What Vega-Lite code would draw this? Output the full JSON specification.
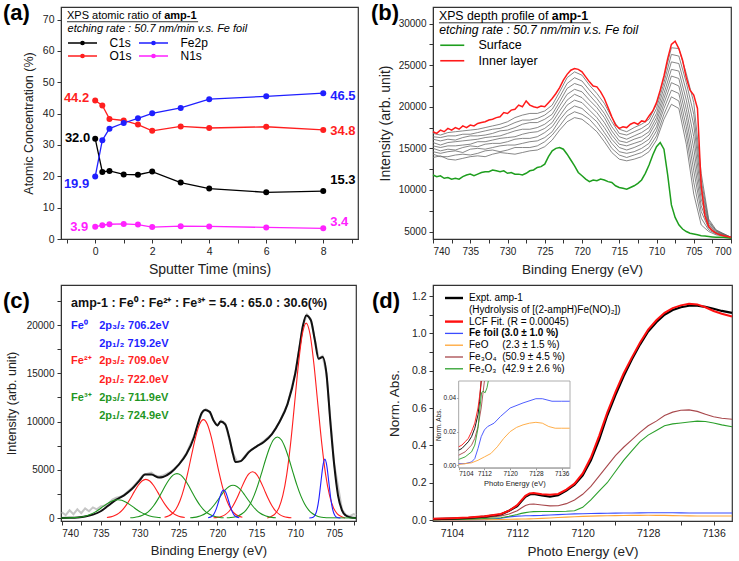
{
  "$schema": "https://vega.github.io/schema/vega-lite/v6.json",
  "background": "white",
  "padding": {"left": 2, "top": 1, "right": 4, "bottom": 4},
  "columns": 2,
  "bounds": "flush",
  "spacing": {"row": 46, "column": 75},
  "resolve": {"scale": {"color": "independent", "fill": "independent"}, "legend": {"color": "independent", "fill": "independent"}},
  "config": {
    "font": "Liberation Sans",
    "view": {"stroke": "#333333", "strokeWidth": 1.2},
    "axis": {"grid": false, "labelOverlap": false, "labelBound": false, "domainColor": "#333333", "tickColor": "#333333", "tickSize": 4, "labelColor": "#222222", "titleColor": "#222222", "titleFontWeight": "normal", "labelFontSize": 10, "titleFontSize": 13, "labelPadding": 3},
    "legend": {"padding": 0, "labelColor": "#000000"}
  },
  "datasets": {
    "a": [
      {"t": 0, "s": "C1s", "v": 32.0}, {"t": 0.25, "s": "C1s", "v": 21.4}, {"t": 0.5, "s": "C1s", "v": 21.7}, {"t": 1, "s": "C1s", "v": 20.6}, {"t": 1.5, "s": "C1s", "v": 20.5}, {"t": 2, "s": "C1s", "v": 21.5}, {"t": 3, "s": "C1s", "v": 18.0}, {"t": 4, "s": "C1s", "v": 16.1}, {"t": 6, "s": "C1s", "v": 14.9}, {"t": 8, "s": "C1s", "v": 15.3},
      {"t": 0, "s": "O1s", "v": 44.2}, {"t": 0.25, "s": "O1s", "v": 42.6}, {"t": 0.5, "s": "O1s", "v": 38.3}, {"t": 1, "s": "O1s", "v": 37.8}, {"t": 1.5, "s": "O1s", "v": 36.5}, {"t": 2, "s": "O1s", "v": 34.5}, {"t": 3, "s": "O1s", "v": 35.9}, {"t": 4, "s": "O1s", "v": 35.4}, {"t": 6, "s": "O1s", "v": 35.8}, {"t": 8, "s": "O1s", "v": 34.8},
      {"t": 0, "s": "Fe2p", "v": 19.9}, {"t": 0.25, "s": "Fe2p", "v": 31.5}, {"t": 0.5, "s": "Fe2p", "v": 35.2}, {"t": 1, "s": "Fe2p", "v": 37.0}, {"t": 1.5, "s": "Fe2p", "v": 38.5}, {"t": 2, "s": "Fe2p", "v": 40.1}, {"t": 3, "s": "Fe2p", "v": 41.8}, {"t": 4, "s": "Fe2p", "v": 44.6}, {"t": 6, "s": "Fe2p", "v": 45.5}, {"t": 8, "s": "Fe2p", "v": 46.5},
      {"t": 0, "s": "N1s", "v": 3.9}, {"t": 0.25, "s": "N1s", "v": 4.4}, {"t": 0.5, "s": "N1s", "v": 4.7}, {"t": 1, "s": "N1s", "v": 4.8}, {"t": 1.5, "s": "N1s", "v": 4.6}, {"t": 2, "s": "N1s", "v": 3.8}, {"t": 3, "s": "N1s", "v": 4.1}, {"t": 4, "s": "N1s", "v": 4.0}, {"t": 6, "s": "N1s", "v": 3.7}, {"t": 8, "s": "N1s", "v": 3.4}
    ],
    "bgray": [
      {"e": 740, "t1": 13900, "t2": 14300, "t3": 14600, "t4": 15000, "t5": 15300, "t6": 15700, "t7": 16100, "t8": 16400, "t9": 16800},
      {"e": 739, "t1": 14100, "t2": 14000, "t3": 14400, "t4": 14700, "t5": 15100, "t6": 15400, "t7": 15900, "t8": 16300, "t9": 16600},
      {"e": 738, "t1": 13700, "t2": 14000, "t3": 14600, "t4": 14900, "t5": 15300, "t6": 15700, "t7": 16100, "t8": 16500, "t9": 16900},
      {"e": 737, "t1": 13600, "t2": 14200, "t3": 14700, "t4": 14800, "t5": 15300, "t6": 15800, "t7": 16000, "t8": 16500, "t9": 17000},
      {"e": 736, "t1": 13800, "t2": 14300, "t3": 14500, "t4": 15100, "t5": 15400, "t6": 15900, "t7": 16300, "t8": 16700, "t9": 17100},
      {"e": 735, "t1": 14000, "t2": 14200, "t3": 14900, "t4": 15300, "t5": 15500, "t6": 16000, "t7": 16500, "t8": 16700, "t9": 17200},
      {"e": 734, "t1": 14100, "t2": 14400, "t3": 15000, "t4": 15200, "t5": 15800, "t6": 16100, "t7": 16500, "t8": 16900, "t9": 17300},
      {"e": 733, "t1": 14000, "t2": 14700, "t3": 14900, "t4": 15500, "t5": 15800, "t6": 16300, "t7": 16600, "t8": 17100, "t9": 17500},
      {"e": 732, "t1": 14300, "t2": 14800, "t3": 15100, "t4": 15600, "t5": 16000, "t6": 16400, "t7": 16800, "t8": 17300, "t9": 17700},
      {"e": 731, "t1": 14500, "t2": 14600, "t3": 15300, "t4": 15600, "t5": 16200, "t6": 16500, "t7": 17100, "t8": 17400, "t9": 17900},
      {"e": 730, "t1": 14400, "t2": 14800, "t3": 15400, "t4": 15800, "t5": 16300, "t6": 16800, "t7": 17200, "t8": 17700, "t9": 18200},
      {"e": 729, "t1": 14300, "t2": 15100, "t3": 15400, "t4": 16100, "t5": 16400, "t6": 17100, "t7": 17500, "t8": 18100, "t9": 18700},
      {"e": 728, "t1": 14500, "t2": 15100, "t3": 15600, "t4": 16200, "t5": 16700, "t6": 17300, "t7": 17900, "t8": 18400, "t9": 19000},
      {"e": 727, "t1": 14700, "t2": 15100, "t3": 15800, "t4": 16200, "t5": 16900, "t6": 17300, "t7": 18100, "t8": 18400, "t9": 19200},
      {"e": 726, "t1": 14800, "t2": 15300, "t3": 15900, "t4": 16400, "t5": 17000, "t6": 17500, "t7": 18100, "t8": 18600, "t9": 19200},
      {"e": 725, "t1": 15200, "t2": 15800, "t3": 16300, "t4": 16900, "t5": 17400, "t6": 17900, "t7": 18500, "t8": 19000, "t9": 19500},
      {"e": 724, "t1": 16000, "t2": 16600, "t3": 17000, "t4": 17600, "t5": 18100, "t6": 18600, "t7": 19100, "t8": 19700, "t9": 20200},
      {"e": 723, "t1": 17200, "t2": 17700, "t3": 18400, "t4": 18900, "t5": 19500, "t6": 20100, "t7": 20600, "t8": 21200, "t9": 21800},
      {"e": 722, "t1": 18200, "t2": 18900, "t3": 19500, "t4": 20200, "t5": 20800, "t6": 21500, "t7": 22200, "t8": 22800, "t9": 23500},
      {"e": 721, "t1": 18700, "t2": 19400, "t3": 20100, "t4": 20800, "t5": 21500, "t6": 22100, "t7": 22800, "t8": 23500, "t9": 24200},
      {"e": 720, "t1": 18500, "t2": 19100, "t3": 19800, "t4": 20500, "t5": 21100, "t6": 21800, "t7": 22500, "t8": 23100, "t9": 23800},
      {"e": 719, "t1": 17800, "t2": 18500, "t3": 19000, "t4": 19600, "t5": 20200, "t6": 20800, "t7": 21400, "t8": 22000, "t9": 22600},
      {"e": 718, "t1": 17000, "t2": 17500, "t3": 18200, "t4": 18700, "t5": 19300, "t6": 19900, "t7": 20400, "t8": 21000, "t9": 21600},
      {"e": 717, "t1": 15800, "t2": 16400, "t3": 16900, "t4": 17500, "t5": 18100, "t6": 18700, "t7": 19200, "t8": 19800, "t9": 20400},
      {"e": 716, "t1": 14500, "t2": 15000, "t3": 15600, "t4": 16100, "t5": 16600, "t6": 17100, "t7": 17600, "t8": 18200, "t9": 18700},
      {"e": 715, "t1": 13700, "t2": 14200, "t3": 14600, "t4": 15100, "t5": 15500, "t6": 15900, "t7": 16400, "t8": 16800, "t9": 17300},
      {"e": 714, "t1": 13500, "t2": 13900, "t3": 14400, "t4": 14800, "t5": 15300, "t6": 15700, "t7": 16100, "t8": 16600, "t9": 17000},
      {"e": 713, "t1": 13700, "t2": 14200, "t3": 14600, "t4": 15100, "t5": 15600, "t6": 16100, "t7": 16500, "t8": 17000, "t9": 17500},
      {"e": 712, "t1": 14000, "t2": 14500, "t3": 15000, "t4": 15500, "t5": 15900, "t6": 16400, "t7": 16900, "t8": 17400, "t9": 17900},
      {"e": 711, "t1": 14600, "t2": 15100, "t3": 15600, "t4": 16100, "t5": 16600, "t6": 17000, "t7": 17500, "t8": 18000, "t9": 18500},
      {"e": 710, "t1": 16000, "t2": 16500, "t3": 17100, "t4": 17600, "t5": 18200, "t6": 18700, "t7": 19200, "t8": 19800, "t9": 20300},
      {"e": 709, "t1": 18500, "t2": 19100, "t3": 19800, "t4": 20400, "t5": 21000, "t6": 21600, "t7": 22300, "t8": 22900, "t9": 23500},
      {"e": 708, "t1": 20300, "t2": 21200, "t3": 22000, "t4": 22900, "t5": 23700, "t6": 24500, "t7": 25400, "t8": 26300, "t9": 27100},
      {"e": 707, "t1": 19800, "t2": 20700, "t3": 21600, "t4": 22500, "t5": 23400, "t6": 24300, "t7": 25200, "t8": 26100, "t9": 27000},
      {"e": 706, "t1": 15500, "t2": 16600, "t3": 17600, "t4": 18700, "t5": 19700, "t6": 20800, "t7": 21900, "t8": 22900, "t9": 24000},
      {"e": 705, "t1": 9500, "t2": 10900, "t3": 12300, "t4": 13600, "t5": 15000, "t6": 16400, "t7": 17800, "t8": 19100, "t9": 20500},
      {"e": 704, "t1": 5800, "t2": 6600, "t3": 7400, "t4": 8100, "t5": 8900, "t6": 9700, "t7": 10500, "t8": 11200, "t9": 12000},
      {"e": 703, "t1": 5000, "t2": 5200, "t3": 5400, "t4": 5600, "t5": 5800, "t6": 5900, "t7": 6100, "t8": 6300, "t9": 6500},
      {"e": 702, "t1": 4600, "t2": 4700, "t3": 4800, "t4": 4800, "t5": 4900, "t6": 5000, "t7": 5100, "t8": 5100, "t9": 5200},
      {"e": 700, "t1": 4300, "t2": 4300, "t3": 4300, "t4": 4300, "t5": 4300, "t6": 4300, "t7": 4300, "t8": 4300, "t9": 4300}
    ],
    "bline": [
      {"e": 740, "inner": 17000, "surface": 11800}, {"e": 739.5, "inner": 16800, "surface": 11600}, {"e": 739, "inner": 17200, "surface": 11700}, {"e": 738.5, "inner": 17000, "surface": 11400},
      {"e": 738, "inner": 17400, "surface": 11500}, {"e": 737.5, "inner": 17200, "surface": 11300}, {"e": 737, "inner": 17500, "surface": 11400}, {"e": 736.5, "inner": 17300, "surface": 11300},
      {"e": 736, "inner": 17700, "surface": 11600}, {"e": 735.5, "inner": 17500, "surface": 11800}, {"e": 735, "inner": 17800, "surface": 11900}, {"e": 734.5, "inner": 17700, "surface": 11700},
      {"e": 734, "inner": 18000, "surface": 11900}, {"e": 733.5, "inner": 18100, "surface": 12100}, {"e": 733, "inner": 18200, "surface": 12200}, {"e": 732.5, "inner": 18400, "surface": 12200},
      {"e": 732, "inner": 18500, "surface": 12400}, {"e": 731.5, "inner": 18700, "surface": 12300}, {"e": 731, "inner": 18800, "surface": 12200}, {"e": 730.5, "inner": 19300, "surface": 12300},
      {"e": 730, "inner": 19200, "surface": 12000}, {"e": 729.5, "inner": 19600, "surface": 12100}, {"e": 729, "inner": 19700, "surface": 11900}, {"e": 728.5, "inner": 20200, "surface": 11900},
      {"e": 728, "inner": 20000, "surface": 11800}, {"e": 727.5, "inner": 20700, "surface": 12000}, {"e": 727, "inner": 20200, "surface": 12300}, {"e": 726.5, "inner": 20000, "surface": 12400},
      {"e": 726, "inner": 19900, "surface": 12700}, {"e": 725.5, "inner": 20100, "surface": 12800}, {"e": 725, "inner": 20000, "surface": 13100}, {"e": 724.5, "inner": 20500, "surface": 14000},
      {"e": 724, "inner": 21000, "surface": 14700}, {"e": 723.5, "inner": 21600, "surface": 15000}, {"e": 723, "inner": 22300, "surface": 15100}, {"e": 722.5, "inner": 23200, "surface": 14900},
      {"e": 722, "inner": 23900, "surface": 14300}, {"e": 721.5, "inner": 24400, "surface": 13600}, {"e": 721, "inner": 24600, "surface": 12900}, {"e": 720.5, "inner": 24500, "surface": 12100},
      {"e": 720, "inner": 24200, "surface": 11700}, {"e": 719.5, "inner": 23600, "surface": 11300}, {"e": 719, "inner": 23000, "surface": 11000}, {"e": 718.5, "inner": 22500, "surface": 11200},
      {"e": 718, "inner": 22400, "surface": 11100}, {"e": 717.5, "inner": 21800, "surface": 11300}, {"e": 717, "inner": 21000, "surface": 11200}, {"e": 716.5, "inner": 19900, "surface": 11000},
      {"e": 716, "inner": 18800, "surface": 10900}, {"e": 715.5, "inner": 17800, "surface": 10500}, {"e": 715, "inner": 17400, "surface": 10300}, {"e": 714.5, "inner": 17600, "surface": 10200},
      {"e": 714, "inner": 17500, "surface": 10100}, {"e": 713.5, "inner": 17900, "surface": 10300}, {"e": 713, "inner": 18100, "surface": 10500}, {"e": 712.5, "inner": 17900, "surface": 10800},
      {"e": 712, "inner": 18300, "surface": 11200}, {"e": 711.5, "inner": 18200, "surface": 12000}, {"e": 711, "inner": 18900, "surface": 13000}, {"e": 710.5, "inner": 19500, "surface": 14200},
      {"e": 710, "inner": 20500, "surface": 15200}, {"e": 709.5, "inner": 22000, "surface": 15700}, {"e": 709, "inner": 23700, "surface": 14900}, {"e": 708.5, "inner": 25800, "surface": 11800},
      {"e": 708, "inner": 27500, "surface": 8200}, {"e": 707.5, "inner": 27900, "surface": 6700}, {"e": 707, "inner": 27000, "surface": 5800}, {"e": 706.5, "inner": 25600, "surface": 5300},
      {"e": 706, "inner": 23500, "surface": 5000}, {"e": 705.5, "inner": 22000, "surface": 4800}, {"e": 705, "inner": 21400, "surface": 4700}, {"e": 704.5, "inner": 19800, "surface": 4600},
      {"e": 704, "inner": 10500, "surface": 4500}, {"e": 703.5, "inner": 6900, "surface": 4450}, {"e": 703, "inner": 5600, "surface": 4400}, {"e": 702.5, "inner": 5100, "surface": 4350},
      {"e": 702, "inner": 4800, "surface": 4300}, {"e": 701.5, "inner": 4600, "surface": 4300}, {"e": 701, "inner": 4500, "surface": 4300}, {"e": 700.5, "inner": 4400, "surface": 4250},
      {"e": 700, "inner": 4300, "surface": 4200}
    ],
    "cRaw": [
      {"e": 740, "v": 600}, {"e": 739.5, "v": 300}, {"e": 739, "v": 800}, {"e": 738.5, "v": 400}, {"e": 738, "v": 900}, {"e": 737.5, "v": 500}, {"e": 737, "v": 1000}, {"e": 736.5, "v": 700},
      {"e": 736, "v": 1100}, {"e": 735.5, "v": 900}, {"e": 735, "v": 1200}, {"e": 734.5, "v": 1300}, {"e": 734, "v": 1500}, {"e": 733.5, "v": 1900}, {"e": 733, "v": 2100}, {"e": 732.5, "v": 2200},
      {"e": 732, "v": 2400}, {"e": 731, "v": 3100}, {"e": 730, "v": 4000}, {"e": 729.5, "v": 4500}, {"e": 729, "v": 4600}, {"e": 728.5, "v": 4700}, {"e": 728, "v": 4400}, {"e": 727.5, "v": 4300},
      {"e": 727, "v": 4400}, {"e": 726, "v": 4800}, {"e": 725, "v": 5500}, {"e": 724, "v": 6700}, {"e": 723, "v": 8500}, {"e": 722, "v": 10900}, {"e": 721.5, "v": 11300}, {"e": 721, "v": 11000},
      {"e": 720.5, "v": 10100}, {"e": 720, "v": 9600}, {"e": 719.5, "v": 10100}, {"e": 719, "v": 9800}, {"e": 718, "v": 6700}, {"e": 717.5, "v": 5900}, {"e": 717, "v": 5900}, {"e": 716, "v": 6900},
      {"e": 715, "v": 7400}, {"e": 714, "v": 8000}, {"e": 713, "v": 8700}, {"e": 712, "v": 10000}, {"e": 711, "v": 11800}, {"e": 710, "v": 15000}, {"e": 709, "v": 20000}, {"e": 708.5, "v": 21100},
      {"e": 708, "v": 20600}, {"e": 707, "v": 16500}, {"e": 706.5, "v": 16800}, {"e": 706, "v": 15000}, {"e": 705, "v": 5600}, {"e": 704, "v": 900}, {"e": 703.5, "v": 300}, {"e": 703, "v": 200},
      {"e": 702.5, "v": 400}, {"e": 702.2, "v": 300}
    ],
    "cEnv": [
      {"e": 740.1, "v": 0}, {"e": 739, "v": 20}, {"e": 738, "v": 60}, {"e": 737, "v": 150}, {"e": 736, "v": 350}, {"e": 735, "v": 700}, {"e": 734, "v": 1300}, {"e": 733, "v": 1900},
      {"e": 732, "v": 2350}, {"e": 731, "v": 3000}, {"e": 730, "v": 3900}, {"e": 729.3, "v": 4500}, {"e": 728.5, "v": 4500}, {"e": 727.5, "v": 4200}, {"e": 727, "v": 4250}, {"e": 726, "v": 4700},
      {"e": 725, "v": 5500}, {"e": 724, "v": 6600}, {"e": 723, "v": 8400}, {"e": 722.5, "v": 9800}, {"e": 722, "v": 10900}, {"e": 721.6, "v": 11200}, {"e": 721, "v": 11000}, {"e": 720.5, "v": 10100},
      {"e": 720, "v": 9600}, {"e": 719.6, "v": 10000}, {"e": 719, "v": 9700}, {"e": 718.5, "v": 8400}, {"e": 718, "v": 6600}, {"e": 717.7, "v": 5800}, {"e": 717, "v": 5900}, {"e": 716.5, "v": 6300},
      {"e": 716, "v": 6800}, {"e": 715, "v": 7400}, {"e": 714, "v": 7900}, {"e": 713, "v": 8700}, {"e": 712, "v": 10000}, {"e": 711, "v": 11800}, {"e": 710, "v": 15000}, {"e": 709.5, "v": 17500},
      {"e": 709, "v": 20000}, {"e": 708.6, "v": 21000}, {"e": 708, "v": 20500}, {"e": 707.5, "v": 18500}, {"e": 707, "v": 16500}, {"e": 706.5, "v": 16700}, {"e": 706, "v": 15000}, {"e": 705.5, "v": 10000},
      {"e": 705, "v": 5500}, {"e": 704.5, "v": 2300}, {"e": 704, "v": 800}, {"e": 703.5, "v": 250}, {"e": 703, "v": 80}, {"e": 702.2, "v": 0}
    ],
    "cComp": [
      {"c": "Fe2+ 2p3/2", "e": 703.6, "v": 0}, {"c": "Fe2+ 2p3/2", "e": 704.1, "v": 160}, {"c": "Fe2+ 2p3/2", "e": 704.6, "v": 420}, {"c": "Fe2+ 2p3/2", "e": 705.1, "v": 1070}, {"c": "Fe2+ 2p3/2", "e": 705.6, "v": 2340}, {"c": "Fe2+ 2p3/2", "e": 706.1, "v": 4500}, {"c": "Fe2+ 2p3/2", "e": 706.6, "v": 7740}, {"c": "Fe2+ 2p3/2", "e": 707.1, "v": 11780}, {"c": "Fe2+ 2p3/2", "e": 707.6, "v": 15900}, {"c": "Fe2+ 2p3/2", "e": 708.1, "v": 19030}, {"c": "Fe2+ 2p3/2", "e": 708.6, "v": 20200}, {"c": "Fe2+ 2p3/2", "e": 709.1, "v": 19030}, {"c": "Fe2+ 2p3/2", "e": 709.6, "v": 15900}, {"c": "Fe2+ 2p3/2", "e": 710.1, "v": 11780}, {"c": "Fe2+ 2p3/2", "e": 710.6, "v": 7740}, {"c": "Fe2+ 2p3/2", "e": 711.1, "v": 4500}, {"c": "Fe2+ 2p3/2", "e": 711.6, "v": 2340}, {"c": "Fe2+ 2p3/2", "e": 712.1, "v": 1070}, {"c": "Fe2+ 2p3/2", "e": 712.6, "v": 420}, {"c": "Fe2+ 2p3/2", "e": 713.1, "v": 160}, {"c": "Fe2+ 2p3/2", "e": 713.6, "v": 0},
      {"c": "Fe2+ sat1", "e": 710.5, "v": 24}, {"c": "Fe2+ sat1", "e": 711, "v": 62}, {"c": "Fe2+ sat1", "e": 711.5, "v": 158}, {"c": "Fe2+ sat1", "e": 712, "v": 350}, {"c": "Fe2+ sat1", "e": 712.5, "v": 701}, {"c": "Fe2+ sat1", "e": 713, "v": 1262}, {"c": "Fe2+ sat1", "e": 713.5, "v": 2040}, {"c": "Fe2+ sat1", "e": 714, "v": 2966}, {"c": "Fe2+ sat1", "e": 714.5, "v": 3874}, {"c": "Fe2+ sat1", "e": 715, "v": 4550}, {"c": "Fe2+ sat1", "e": 715.5, "v": 4800}, {"c": "Fe2+ sat1", "e": 716, "v": 4550}, {"c": "Fe2+ sat1", "e": 716.5, "v": 3874}, {"c": "Fe2+ sat1", "e": 717, "v": 2966}, {"c": "Fe2+ sat1", "e": 717.5, "v": 2040}, {"c": "Fe2+ sat1", "e": 718, "v": 1262}, {"c": "Fe2+ sat1", "e": 718.5, "v": 701}, {"c": "Fe2+ sat1", "e": 719, "v": 350}, {"c": "Fe2+ sat1", "e": 719.5, "v": 158}, {"c": "Fe2+ sat1", "e": 720, "v": 62}, {"c": "Fe2+ sat1", "e": 720.5, "v": 24},
      {"c": "Fe2+ 2p1/2", "e": 716.8, "v": 82}, {"c": "Fe2+ 2p1/2", "e": 717.3, "v": 204}, {"c": "Fe2+ 2p1/2", "e": 717.8, "v": 469}, {"c": "Fe2+ 2p1/2", "e": 718.3, "v": 969}, {"c": "Fe2+ 2p1/2", "e": 718.8, "v": 1816}, {"c": "Fe2+ 2p1/2", "e": 719.3, "v": 3070}, {"c": "Fe2+ 2p1/2", "e": 719.8, "v": 4733}, {"c": "Fe2+ 2p1/2", "e": 720.3, "v": 6620}, {"c": "Fe2+ 2p1/2", "e": 720.8, "v": 8415}, {"c": "Fe2+ 2p1/2", "e": 721.3, "v": 9720}, {"c": "Fe2+ 2p1/2", "e": 721.8, "v": 10200}, {"c": "Fe2+ 2p1/2", "e": 722.3, "v": 9720}, {"c": "Fe2+ 2p1/2", "e": 722.8, "v": 8415}, {"c": "Fe2+ 2p1/2", "e": 723.3, "v": 6620}, {"c": "Fe2+ 2p1/2", "e": 723.8, "v": 4733}, {"c": "Fe2+ 2p1/2", "e": 724.3, "v": 3070}, {"c": "Fe2+ 2p1/2", "e": 724.8, "v": 1816}, {"c": "Fe2+ 2p1/2", "e": 725.3, "v": 969}, {"c": "Fe2+ 2p1/2", "e": 725.8, "v": 469}, {"c": "Fe2+ 2p1/2", "e": 726.3, "v": 204}, {"c": "Fe2+ 2p1/2", "e": 726.8, "v": 82},
      {"c": "Fe2+ sat2", "e": 724.2, "v": 52}, {"c": "Fe2+ sat2", "e": 724.7, "v": 120}, {"c": "Fe2+ sat2", "e": 725.2, "v": 252}, {"c": "Fe2+ sat2", "e": 725.7, "v": 480}, {"c": "Fe2+ sat2", "e": 726.2, "v": 840}, {"c": "Fe2+ sat2", "e": 726.7, "v": 1356}, {"c": "Fe2+ sat2", "e": 727.2, "v": 2000}, {"c": "Fe2+ sat2", "e": 727.7, "v": 2708}, {"c": "Fe2+ sat2", "e": 728.2, "v": 3364}, {"c": "Fe2+ sat2", "e": 728.7, "v": 3832}, {"c": "Fe2+ sat2", "e": 729.2, "v": 4000}, {"c": "Fe2+ sat2", "e": 729.7, "v": 3832}, {"c": "Fe2+ sat2", "e": 730.2, "v": 3364}, {"c": "Fe2+ sat2", "e": 730.7, "v": 2708}, {"c": "Fe2+ sat2", "e": 731.2, "v": 2000}, {"c": "Fe2+ sat2", "e": 731.7, "v": 1356}, {"c": "Fe2+ sat2", "e": 732.2, "v": 840}, {"c": "Fe2+ sat2", "e": 732.7, "v": 480}, {"c": "Fe2+ sat2", "e": 733.2, "v": 252}, {"c": "Fe2+ sat2", "e": 733.7, "v": 120}, {"c": "Fe2+ sat2", "e": 734.2, "v": 52},
      {"c": "Fe3+ 2p3/2", "e": 702.2, "v": 0}, {"c": "Fe3+ 2p3/2", "e": 705.8, "v": 20}, {"c": "Fe3+ 2p3/2", "e": 706.3, "v": 50}, {"c": "Fe3+ 2p3/2", "e": 706.8, "v": 109}, {"c": "Fe3+ 2p3/2", "e": 707.3, "v": 235}, {"c": "Fe3+ 2p3/2", "e": 707.8, "v": 462}, {"c": "Fe3+ 2p3/2", "e": 708.3, "v": 848}, {"c": "Fe3+ 2p3/2", "e": 708.8, "v": 1453}, {"c": "Fe3+ 2p3/2", "e": 709.3, "v": 2318}, {"c": "Fe3+ 2p3/2", "e": 709.8, "v": 3436}, {"c": "Fe3+ 2p3/2", "e": 710.3, "v": 4738}, {"c": "Fe3+ 2p3/2", "e": 710.8, "v": 6090}, {"c": "Fe3+ 2p3/2", "e": 711.3, "v": 7283}, {"c": "Fe3+ 2p3/2", "e": 711.8, "v": 8106}, {"c": "Fe3+ 2p3/2", "e": 712.3, "v": 8400}, {"c": "Fe3+ 2p3/2", "e": 712.8, "v": 8106}, {"c": "Fe3+ 2p3/2", "e": 713.3, "v": 7283}, {"c": "Fe3+ 2p3/2", "e": 713.8, "v": 6090}, {"c": "Fe3+ 2p3/2", "e": 714.3, "v": 4738}, {"c": "Fe3+ 2p3/2", "e": 714.8, "v": 3436}, {"c": "Fe3+ 2p3/2", "e": 715.3, "v": 2318}, {"c": "Fe3+ 2p3/2", "e": 715.8, "v": 1453}, {"c": "Fe3+ 2p3/2", "e": 716.3, "v": 848}, {"c": "Fe3+ 2p3/2", "e": 716.8, "v": 462}, {"c": "Fe3+ 2p3/2", "e": 717.3, "v": 235}, {"c": "Fe3+ 2p3/2", "e": 717.8, "v": 109}, {"c": "Fe3+ 2p3/2", "e": 718.3, "v": 50}, {"c": "Fe3+ 2p3/2", "e": 718.8, "v": 20},
      {"c": "Fe3+ sat1", "e": 712.5, "v": 31}, {"c": "Fe3+ sat1", "e": 713, "v": 68}, {"c": "Fe3+ sat1", "e": 713.5, "v": 143}, {"c": "Fe3+ sat1", "e": 714, "v": 275}, {"c": "Fe3+ sat1", "e": 714.5, "v": 496}, {"c": "Fe3+ sat1", "e": 715, "v": 826}, {"c": "Fe3+ sat1", "e": 715.5, "v": 1272}, {"c": "Fe3+ sat1", "e": 716, "v": 1812}, {"c": "Fe3+ sat1", "e": 716.5, "v": 2387}, {"c": "Fe3+ sat1", "e": 717, "v": 2907}, {"c": "Fe3+ sat1", "e": 717.5, "v": 3267}, {"c": "Fe3+ sat1", "e": 718, "v": 3400}, {"c": "Fe3+ sat1", "e": 718.5, "v": 3267}, {"c": "Fe3+ sat1", "e": 719, "v": 2907}, {"c": "Fe3+ sat1", "e": 719.5, "v": 2387}, {"c": "Fe3+ sat1", "e": 720, "v": 1812}, {"c": "Fe3+ sat1", "e": 720.5, "v": 1272}, {"c": "Fe3+ sat1", "e": 721, "v": 826}, {"c": "Fe3+ sat1", "e": 721.5, "v": 496}, {"c": "Fe3+ sat1", "e": 722, "v": 275}, {"c": "Fe3+ sat1", "e": 722.5, "v": 143}, {"c": "Fe3+ sat1", "e": 723, "v": 68}, {"c": "Fe3+ sat1", "e": 723.5, "v": 31},
      {"c": "Fe3+ 2p1/2", "e": 719.2, "v": 28}, {"c": "Fe3+ 2p1/2", "e": 719.7, "v": 60}, {"c": "Fe3+ 2p1/2", "e": 720.2, "v": 129}, {"c": "Fe3+ 2p1/2", "e": 720.7, "v": 253}, {"c": "Fe3+ 2p1/2", "e": 721.2, "v": 465}, {"c": "Fe3+ 2p1/2", "e": 721.7, "v": 796}, {"c": "Fe3+ 2p1/2", "e": 722.2, "v": 1270}, {"c": "Fe3+ 2p1/2", "e": 722.7, "v": 1881}, {"c": "Fe3+ 2p1/2", "e": 723.2, "v": 2594}, {"c": "Fe3+ 2p1/2", "e": 723.7, "v": 3335}, {"c": "Fe3+ 2p1/2", "e": 724.2, "v": 3988}, {"c": "Fe3+ 2p1/2", "e": 724.7, "v": 4439}, {"c": "Fe3+ 2p1/2", "e": 725.2, "v": 4600}, {"c": "Fe3+ 2p1/2", "e": 725.7, "v": 4439}, {"c": "Fe3+ 2p1/2", "e": 726.2, "v": 3988}, {"c": "Fe3+ 2p1/2", "e": 726.7, "v": 3335}, {"c": "Fe3+ 2p1/2", "e": 727.2, "v": 2594}, {"c": "Fe3+ 2p1/2", "e": 727.7, "v": 1881}, {"c": "Fe3+ 2p1/2", "e": 728.2, "v": 1270}, {"c": "Fe3+ 2p1/2", "e": 728.7, "v": 796}, {"c": "Fe3+ 2p1/2", "e": 729.2, "v": 465}, {"c": "Fe3+ 2p1/2", "e": 729.7, "v": 253}, {"c": "Fe3+ 2p1/2", "e": 730.2, "v": 129}, {"c": "Fe3+ 2p1/2", "e": 730.7, "v": 60}, {"c": "Fe3+ 2p1/2", "e": 731.2, "v": 28},
      {"c": "Fe3+ sat2", "e": 727.3, "v": 36}, {"c": "Fe3+ sat2", "e": 727.8, "v": 72}, {"c": "Fe3+ sat2", "e": 728.3, "v": 135}, {"c": "Fe3+ sat2", "e": 728.8, "v": 234}, {"c": "Fe3+ sat2", "e": 729.3, "v": 382}, {"c": "Fe3+ sat2", "e": 729.8, "v": 583}, {"c": "Fe3+ sat2", "e": 730.3, "v": 838}, {"c": "Fe3+ sat2", "e": 730.8, "v": 1125}, {"c": "Fe3+ sat2", "e": 731.3, "v": 1416}, {"c": "Fe3+ sat2", "e": 731.8, "v": 1666}, {"c": "Fe3+ sat2", "e": 732.3, "v": 1839}, {"c": "Fe3+ sat2", "e": 732.8, "v": 1900}, {"c": "Fe3+ sat2", "e": 733.3, "v": 1839}, {"c": "Fe3+ sat2", "e": 733.8, "v": 1666}, {"c": "Fe3+ sat2", "e": 734.3, "v": 1416}, {"c": "Fe3+ sat2", "e": 734.8, "v": 1125}, {"c": "Fe3+ sat2", "e": 735.3, "v": 838}, {"c": "Fe3+ sat2", "e": 735.8, "v": 583}, {"c": "Fe3+ sat2", "e": 736.3, "v": 382}, {"c": "Fe3+ sat2", "e": 736.8, "v": 234}, {"c": "Fe3+ sat2", "e": 737.3, "v": 135}, {"c": "Fe3+ sat2", "e": 737.8, "v": 72}, {"c": "Fe3+ sat2", "e": 738.3, "v": 36}, {"c": "Fe3+ sat2", "e": 740.1, "v": 0},
      {"c": "Fe0 2p3/2", "e": 704.2, "v": 3}, {"c": "Fe0 2p3/2", "e": 704.7, "v": 79}, {"c": "Fe0 2p3/2", "e": 704.95, "v": 305}, {"c": "Fe0 2p3/2", "e": 705.2, "v": 891}, {"c": "Fe0 2p3/2", "e": 705.45, "v": 2068}, {"c": "Fe0 2p3/2", "e": 705.7, "v": 3776}, {"c": "Fe0 2p3/2", "e": 705.95, "v": 5410}, {"c": "Fe0 2p3/2", "e": 706.2, "v": 6100}, {"c": "Fe0 2p3/2", "e": 706.45, "v": 5410}, {"c": "Fe0 2p3/2", "e": 706.7, "v": 3776}, {"c": "Fe0 2p3/2", "e": 706.95, "v": 2068}, {"c": "Fe0 2p3/2", "e": 707.2, "v": 891}, {"c": "Fe0 2p3/2", "e": 707.45, "v": 305}, {"c": "Fe0 2p3/2", "e": 707.7, "v": 79}, {"c": "Fe0 2p3/2", "e": 708.2, "v": 3},
      {"c": "Fe0 2p1/2", "e": 717.2, "v": 20}, {"c": "Fe0 2p1/2", "e": 717.7, "v": 180}, {"c": "Fe0 2p1/2", "e": 717.95, "v": 420}, {"c": "Fe0 2p1/2", "e": 718.2, "v": 844}, {"c": "Fe0 2p1/2", "e": 718.45, "v": 1450}, {"c": "Fe0 2p1/2", "e": 718.7, "v": 2132}, {"c": "Fe0 2p1/2", "e": 718.95, "v": 2685}, {"c": "Fe0 2p1/2", "e": 719.2, "v": 2900}, {"c": "Fe0 2p1/2", "e": 719.45, "v": 2685}, {"c": "Fe0 2p1/2", "e": 719.7, "v": 2132}, {"c": "Fe0 2p1/2", "e": 719.95, "v": 1450}, {"c": "Fe0 2p1/2", "e": 720.2, "v": 844}, {"c": "Fe0 2p1/2", "e": 720.45, "v": 420}, {"c": "Fe0 2p1/2", "e": 720.7, "v": 180}, {"c": "Fe0 2p1/2", "e": 721.2, "v": 20}
    ],
    "d": [
      {"e": 7101.7, "expt": 0.005, "lcf": 0.007, "fe": 0.001, "feo": 0.0005, "fe3o4": 0.003, "fe2o3": 0.002},
      {"e": 7104, "expt": 0.008, "lcf": 0.010, "fe": 0.001, "feo": 0.0005, "fe3o4": 0.005, "fe2o3": 0.0035},
      {"e": 7106, "expt": 0.011, "lcf": 0.014, "fe": 0.001, "feo": 0.001, "fe3o4": 0.008, "fe2o3": 0.005},
      {"e": 7108, "expt": 0.018, "lcf": 0.020, "fe": 0.002, "feo": 0.0015, "fe3o4": 0.012, "fe2o3": 0.008},
      {"e": 7110, "expt": 0.030, "lcf": 0.033, "fe": 0.010, "feo": 0.003, "fe3o4": 0.022, "fe2o3": 0.012},
      {"e": 7111, "expt": 0.050, "lcf": 0.050, "fe": 0.017, "feo": 0.004, "fe3o4": 0.032, "fe2o3": 0.020},
      {"e": 7112, "expt": 0.075, "lcf": 0.080, "fe": 0.021, "feo": 0.005, "fe3o4": 0.050, "fe2o3": 0.030},
      {"e": 7112.5, "expt": 0.100, "lcf": 0.105, "fe": 0.022, "feo": 0.0055, "fe3o4": 0.065, "fe2o3": 0.036},
      {"e": 7113, "expt": 0.125, "lcf": 0.130, "fe": 0.023, "feo": 0.006, "fe3o4": 0.078, "fe2o3": 0.040},
      {"e": 7113.5, "expt": 0.137, "lcf": 0.143, "fe": 0.0235, "feo": 0.0065, "fe3o4": 0.085, "fe2o3": 0.043},
      {"e": 7114, "expt": 0.140, "lcf": 0.145, "fe": 0.024, "feo": 0.007, "fe3o4": 0.086, "fe2o3": 0.045},
      {"e": 7115, "expt": 0.132, "lcf": 0.138, "fe": 0.025, "feo": 0.009, "fe3o4": 0.081, "fe2o3": 0.046},
      {"e": 7116, "expt": 0.125, "lcf": 0.135, "fe": 0.027, "feo": 0.011, "fe3o4": 0.076, "fe2o3": 0.046},
      {"e": 7117, "expt": 0.133, "lcf": 0.140, "fe": 0.029, "feo": 0.0135, "fe3o4": 0.077, "fe2o3": 0.046},
      {"e": 7118, "expt": 0.158, "lcf": 0.163, "fe": 0.031, "feo": 0.016, "fe3o4": 0.088, "fe2o3": 0.047},
      {"e": 7119, "expt": 0.190, "lcf": 0.195, "fe": 0.033, "feo": 0.018, "fe3o4": 0.108, "fe2o3": 0.050},
      {"e": 7120, "expt": 0.240, "lcf": 0.250, "fe": 0.034, "feo": 0.020, "fe3o4": 0.138, "fe2o3": 0.068},
      {"e": 7121, "expt": 0.320, "lcf": 0.335, "fe": 0.035, "feo": 0.021, "fe3o4": 0.180, "fe2o3": 0.108},
      {"e": 7122, "expt": 0.430, "lcf": 0.450, "fe": 0.036, "feo": 0.0225, "fe3o4": 0.235, "fe2o3": 0.155},
      {"e": 7123, "expt": 0.560, "lcf": 0.575, "fe": 0.0365, "feo": 0.023, "fe3o4": 0.290, "fe2o3": 0.200},
      {"e": 7124, "expt": 0.670, "lcf": 0.685, "fe": 0.037, "feo": 0.024, "fe3o4": 0.345, "fe2o3": 0.260},
      {"e": 7125, "expt": 0.770, "lcf": 0.785, "fe": 0.0375, "feo": 0.0245, "fe3o4": 0.390, "fe2o3": 0.320},
      {"e": 7126, "expt": 0.860, "lcf": 0.870, "fe": 0.038, "feo": 0.025, "fe3o4": 0.430, "fe2o3": 0.370},
      {"e": 7127, "expt": 0.940, "lcf": 0.950, "fe": 0.0385, "feo": 0.0253, "fe3o4": 0.470, "fe2o3": 0.420},
      {"e": 7128, "expt": 1.010, "lcf": 1.020, "fe": 0.039, "feo": 0.0255, "fe3o4": 0.505, "fe2o3": 0.455},
      {"e": 7129, "expt": 1.060, "lcf": 1.070, "fe": 0.0395, "feo": 0.0253, "fe3o4": 0.530, "fe2o3": 0.480},
      {"e": 7130, "expt": 1.100, "lcf": 1.110, "fe": 0.0395, "feo": 0.025, "fe3o4": 0.560, "fe2o3": 0.505},
      {"e": 7131, "expt": 1.125, "lcf": 1.135, "fe": 0.039, "feo": 0.024, "fe3o4": 0.578, "fe2o3": 0.515},
      {"e": 7132, "expt": 1.140, "lcf": 1.150, "fe": 0.0385, "feo": 0.023, "fe3o4": 0.588, "fe2o3": 0.520},
      {"e": 7133, "expt": 1.148, "lcf": 1.158, "fe": 0.038, "feo": 0.0225, "fe3o4": 0.590, "fe2o3": 0.525},
      {"e": 7134, "expt": 1.148, "lcf": 1.155, "fe": 0.038, "feo": 0.022, "fe3o4": 0.582, "fe2o3": 0.530},
      {"e": 7135, "expt": 1.142, "lcf": 1.140, "fe": 0.038, "feo": 0.022, "fe3o4": 0.567, "fe2o3": 0.528},
      {"e": 7136, "expt": 1.132, "lcf": 1.120, "fe": 0.038, "feo": 0.022, "fe3o4": 0.553, "fe2o3": 0.520},
      {"e": 7137, "expt": 1.120, "lcf": 1.105, "fe": 0.038, "feo": 0.022, "fe3o4": 0.545, "fe2o3": 0.510},
      {"e": 7138.25, "expt": 1.110, "lcf": 1.090, "fe": 0.038, "feo": 0.022, "fe3o4": 0.540, "fe2o3": 0.500}
    ],
    "dIn": [
      {"s": "expt", "e": 7104, "v": 0.009}, {"s": "expt", "e": 7105, "v": 0.010}, {"s": "expt", "e": 7106, "v": 0.012}, {"s": "expt", "e": 7107, "v": 0.014}, {"s": "expt", "e": 7108, "v": 0.017}, {"s": "expt", "e": 7109, "v": 0.022}, {"s": "expt", "e": 7110, "v": 0.030}, {"s": "expt", "e": 7110.5, "v": 0.038}, {"s": "expt", "e": 7111, "v": 0.050},
      {"s": "lcf", "e": 7104, "v": 0.011}, {"s": "lcf", "e": 7105, "v": 0.012}, {"s": "lcf", "e": 7106, "v": 0.014}, {"s": "lcf", "e": 7107, "v": 0.016}, {"s": "lcf", "e": 7108, "v": 0.020}, {"s": "lcf", "e": 7109, "v": 0.025}, {"s": "lcf", "e": 7110, "v": 0.034}, {"s": "lcf", "e": 7110.5, "v": 0.041}, {"s": "lcf", "e": 7111, "v": 0.050},
      {"s": "fe3o4", "e": 7104, "v": 0.006}, {"s": "fe3o4", "e": 7106, "v": 0.008}, {"s": "fe3o4", "e": 7108, "v": 0.012}, {"s": "fe3o4", "e": 7109, "v": 0.016}, {"s": "fe3o4", "e": 7110, "v": 0.023}, {"s": "fe3o4", "e": 7111, "v": 0.034}, {"s": "fe3o4", "e": 7111.5, "v": 0.042}, {"s": "fe3o4", "e": 7112, "v": 0.050},
      {"s": "fe2o3", "e": 7104, "v": 0.0035}, {"s": "fe2o3", "e": 7106, "v": 0.005}, {"s": "fe2o3", "e": 7108, "v": 0.008}, {"s": "fe2o3", "e": 7109, "v": 0.012}, {"s": "fe2o3", "e": 7110, "v": 0.022}, {"s": "fe2o3", "e": 7110.6, "v": 0.034}, {"s": "fe2o3", "e": 7111.1, "v": 0.043}, {"s": "fe2o3", "e": 7111.6, "v": 0.044}, {"s": "fe2o3", "e": 7112.2, "v": 0.043}, {"s": "fe2o3", "e": 7112.8, "v": 0.046}, {"s": "fe2o3", "e": 7113.2, "v": 0.050},
      {"s": "fe", "e": 7104, "v": 0.001}, {"s": "fe", "e": 7106, "v": 0.001}, {"s": "fe", "e": 7108, "v": 0.002}, {"s": "fe", "e": 7109, "v": 0.004}, {"s": "fe", "e": 7110, "v": 0.010}, {"s": "fe", "e": 7111, "v": 0.017}, {"s": "fe", "e": 7112, "v": 0.021}, {"s": "fe", "e": 7113, "v": 0.023}, {"s": "fe", "e": 7114, "v": 0.024}, {"s": "fe", "e": 7115, "v": 0.025}, {"s": "fe", "e": 7117, "v": 0.029}, {"s": "fe", "e": 7120, "v": 0.034}, {"s": "fe", "e": 7124, "v": 0.037}, {"s": "fe", "e": 7128, "v": 0.0395}, {"s": "fe", "e": 7130, "v": 0.0395}, {"s": "fe", "e": 7133, "v": 0.038}, {"s": "fe", "e": 7136, "v": 0.038}, {"s": "fe", "e": 7138.5, "v": 0.038},
      {"s": "feo", "e": 7104, "v": 0.0005}, {"s": "feo", "e": 7108, "v": 0.0015}, {"s": "feo", "e": 7110, "v": 0.003}, {"s": "feo", "e": 7112, "v": 0.005}, {"s": "feo", "e": 7114, "v": 0.007}, {"s": "feo", "e": 7116, "v": 0.011}, {"s": "feo", "e": 7118, "v": 0.016}, {"s": "feo", "e": 7120, "v": 0.020}, {"s": "feo", "e": 7122, "v": 0.0225}, {"s": "feo", "e": 7124, "v": 0.024}, {"s": "feo", "e": 7126, "v": 0.025}, {"s": "feo", "e": 7128, "v": 0.0255}, {"s": "feo", "e": 7130, "v": 0.025}, {"s": "feo", "e": 7132, "v": 0.023}, {"s": "feo", "e": 7134, "v": 0.022}, {"s": "feo", "e": 7136, "v": 0.022}, {"s": "feo", "e": 7138.5, "v": 0.022}
    ]
  },
  "concat": [
    {
      "width": 297,
      "height": 232,
      "title": {"text": "(a)", "anchor": "start", "frame": "group", "baseline": "top", "offset": 0, "dx": -58, "dy": 18, "fontSize": 22, "fontWeight": "bold", "color": "#000000"},
      "data": {"name": "a"},
      "layer": [
        {
          "mark": {"type": "line", "strokeWidth": 1.3},
          "encoding": {
            "x": {"field": "t", "type": "quantitative", "scale": {"domain": [-1.2, 9.22], "nice": false, "zero": false},
                  "axis": {"title": "Sputter Time (mins)", "tickCount": 200, "format": "d", "labelOverlap": false, "values": [-1, 0, 1, 2, 3, 4, 5, 6, 7, 8, 9], "labelExpr": "datum.value % 2 === 0 ? datum.label : ''", "labelFontSize": 10.5, "titleFontSize": 14, "titlePadding": 6}},
            "y": {"field": "v", "type": "quantitative", "scale": {"domain": [0, 74], "nice": false, "zero": false},
                  "axis": {"title": "Atomic Concentration (%)", "tickCount": 200, "format": "d", "labelOverlap": false, "values": [0, 10, 20, 30, 40, 50, 60, 70], "labelFontSize": 10.5, "titleFontSize": 12.5, "titlePadding": 7}},
            "color": {"field": "s", "type": "nominal",
              "scale": {"domain": ["C1s", "Fe2p", "O1s", "N1s"], "range": ["#000000", "#1f1fff", "#ff1f1f", "#ff22ff"]},
              "legend": {
                "title": null, "orient": "none", "legendX": 6, "legendY": 30, "columns": 2, "direction": "horizontal",
                "symbolType": "M-2.9,0L2.9,0M-0.33,0A0.33,0.33,0,1,1,0.33,0A0.33,0.33,0,1,1,-0.33,0Z",
                "symbolSize": 100, "symbolStrokeWidth": 1.4, "symbolOffset": 9.5, "labelOffset": 21, "labelFontSize": 12, "rowPadding": 1, "columnPadding": 4
              }}
          }
        },
        {
          "mark": {"type": "point", "filled": true, "size": 36, "opacity": 1, "strokeWidth": 0},
          "encoding": {
            "x": {"field": "t", "type": "quantitative"},
            "y": {"field": "v", "type": "quantitative"},
            "fill": {"field": "s", "type": "nominal",
              "scale": {"domain": ["C1s", "Fe2p", "O1s", "N1s"], "range": ["#000000", "#1f1fff", "#ff1f1f", "#ff22ff"]},
              "legend": {
                "title": null, "orient": "none", "legendX": 6, "legendY": 30, "columns": 2, "direction": "horizontal",
                "symbolType": "M-2.9,0L2.9,0M-0.33,0A0.33,0.33,0,1,1,0.33,0A0.33,0.33,0,1,1,-0.33,0Z",
                "symbolSize": 100, "symbolStrokeWidth": 1.4, "symbolOffset": 9.5, "labelOffset": 21, "labelFontSize": 12, "rowPadding": 1, "columnPadding": 4
              }}
          }
        },
        {"transform": [{"filter": "datum.t === 0 && datum.s === 'O1s'"}], "mark": {"type": "text", "align": "right", "baseline": "middle", "dx": -6, "dy": -2, "fontSize": 13, "fontWeight": "bold", "color": "#ff1f1f"}, "encoding": {"x": {"field": "t", "type": "quantitative"}, "y": {"field": "v", "type": "quantitative"}, "text": {"field": "v", "type": "quantitative", "format": ".1f"}}},
        {"transform": [{"filter": "datum.t === 0 && datum.s === 'C1s'"}], "mark": {"type": "text", "align": "right", "baseline": "middle", "dx": -5, "dy": -1, "fontSize": 13, "fontWeight": "bold", "color": "#000000"}, "encoding": {"x": {"field": "t", "type": "quantitative"}, "y": {"field": "v", "type": "quantitative"}, "text": {"field": "v", "type": "quantitative", "format": ".1f"}}},
        {"transform": [{"filter": "datum.t === 0 && datum.s === 'Fe2p'"}], "mark": {"type": "text", "align": "right", "baseline": "middle", "dx": -6, "dy": 7, "fontSize": 13, "fontWeight": "bold", "color": "#1f1fff"}, "encoding": {"x": {"field": "t", "type": "quantitative"}, "y": {"field": "v", "type": "quantitative"}, "text": {"field": "v", "type": "quantitative", "format": ".1f"}}},
        {"transform": [{"filter": "datum.t === 0 && datum.s === 'N1s'"}], "mark": {"type": "text", "align": "right", "baseline": "middle", "dx": -7, "dy": 0, "fontSize": 13, "fontWeight": "bold", "color": "#ff22ff"}, "encoding": {"x": {"field": "t", "type": "quantitative"}, "y": {"field": "v", "type": "quantitative"}, "text": {"field": "v", "type": "quantitative", "format": ".1f"}}},
        {"transform": [{"filter": "datum.t === 8 && datum.s === 'Fe2p'"}], "mark": {"type": "text", "align": "left", "baseline": "middle", "dx": 7, "dy": 3, "fontSize": 13, "fontWeight": "bold", "color": "#1f1fff"}, "encoding": {"x": {"field": "t", "type": "quantitative"}, "y": {"field": "v", "type": "quantitative"}, "text": {"field": "v", "type": "quantitative", "format": ".1f"}}},
        {"transform": [{"filter": "datum.t === 8 && datum.s === 'O1s'"}], "mark": {"type": "text", "align": "left", "baseline": "middle", "dx": 7, "dy": 1, "fontSize": 13, "fontWeight": "bold", "color": "#ff1f1f"}, "encoding": {"x": {"field": "t", "type": "quantitative"}, "y": {"field": "v", "type": "quantitative"}, "text": {"field": "v", "type": "quantitative", "format": ".1f"}}},
        {"transform": [{"filter": "datum.t === 8 && datum.s === 'C1s'"}], "mark": {"type": "text", "align": "left", "baseline": "middle", "dx": 7, "dy": -11, "fontSize": 13, "fontWeight": "bold", "color": "#000000"}, "encoding": {"x": {"field": "t", "type": "quantitative"}, "y": {"field": "v", "type": "quantitative"}, "text": {"field": "v", "type": "quantitative", "format": ".1f"}}},
        {"transform": [{"filter": "datum.t === 8 && datum.s === 'N1s'"}], "mark": {"type": "text", "align": "left", "baseline": "middle", "dx": 7, "dy": -6, "fontSize": 13, "fontWeight": "bold", "color": "#ff22ff"}, "encoding": {"x": {"field": "t", "type": "quantitative"}, "y": {"field": "v", "type": "quantitative"}, "text": {"field": "v", "type": "quantitative", "format": ".1f"}}},
        {"data": {"values": [{}]}, "mark": {"type": "text", "align": "left", "baseline": "middle", "fontSize": 11, "color": "#000000", "text": "XPS atomic ratio of"}, "encoding": {"x": {"datum": -0.99}, "y": {"datum": 71.1}}},
        {"data": {"values": [{}]}, "mark": {"type": "text", "align": "left", "baseline": "middle", "fontSize": 11, "fontWeight": "bold", "color": "#000000", "text": "amp-1"}, "encoding": {"x": {"datum": 2.42}, "y": {"datum": 71.1}}},
        {"data": {"values": [{}]}, "mark": {"type": "rule", "strokeWidth": 0.8, "color": "#000000"}, "encoding": {"x": {"datum": -0.99}, "x2": {"datum": 3.61}, "y": {"datum": 69.3}}},
        {"data": {"values": [{}]}, "mark": {"type": "text", "align": "left", "baseline": "middle", "fontSize": 11, "fontStyle": "italic", "color": "#000000", "text": "etching rate : 50.7 nm/min v.s. Fe foil"}, "encoding": {"x": {"datum": -0.97}, "y": {"datum": 67.0}}}
      ]
    },
    {
      "width": 298,
      "height": 232,
      "title": {"text": "(b)", "anchor": "start", "frame": "group", "baseline": "top", "offset": 0, "dx": -62, "dy": 18, "fontSize": 22, "fontWeight": "bold", "color": "#000000"},
      "layer": [
        {
          "data": {"name": "bgray"},
          "transform": [{"fold": ["t1", "t2", "t3", "t4", "t5", "t6", "t7", "t8", "t9"], "as": ["curve", "v"]}],
          "mark": {"type": "line", "strokeWidth": 0.9, "color": "#6a6a6a", "opacity": 0.9},
          "encoding": {
            "x": {"field": "e", "type": "quantitative", "scale": {"domain": [700, 740], "reverse": true, "nice": false, "zero": false},
                  "axis": {"title": "Binding Energy (eV)", "tickCount": 200, "labelOverlap": false, "values": [700, 702.5, 705, 707.5, 710, 712.5, 715, 717.5, 720, 722.5, 725, 727.5, 730, 732.5, 735, 737.5, 740], "labelExpr": "datum.value % 5 === 0 ? datum.label : ''", "format": "d", "titleFontSize": 13.5, "titlePadding": 6}},
            "y": {"field": "v", "type": "quantitative", "scale": {"domain": [4100, 32000], "nice": false, "zero": false},
                  "axis": {"title": "Intensity (arb. unit)", "tickCount": 200, "labelOverlap": false, "values": [5000, 7500, 10000, 12500, 15000, 17500, 20000, 22500, 25000, 27500, 30000], "labelExpr": "datum.value % 5000 === 0 ? datum.label : ''", "format": "d", "titleFontSize": 14, "titlePadding": 6}},
            "detail": {"field": "curve", "type": "nominal"}
          }
        },
        {
          "data": {"name": "bline"},
          "transform": [{"fold": ["surface", "inner"], "as": ["s", "v"]}],
          "mark": {"type": "line", "strokeWidth": 1.5},
          "encoding": {
            "x": {"field": "e", "type": "quantitative"},
            "y": {"field": "v", "type": "quantitative"},
            "color": {"field": "s", "type": "nominal", "scale": {"domain": ["surface", "inner"], "range": ["#1e9e1e", "#ff1a1a"]},
              "legend": {"title": null, "orient": "none", "legendX": 6, "legendY": 32, "symbolType": "M-2.4,0L2.4,0", "symbolSize": 100, "symbolStrokeWidth": 1.6, "symbolOffset": 7, "labelOffset": 20, "labelFontSize": 12.5, "rowPadding": 2.5, "labelExpr": "datum.label === 'inner' ? 'Inner layer' : 'Surface'"}}
          }
        },
        {"data": {"values": [{}]}, "mark": {"type": "text", "align": "left", "baseline": "middle", "fontSize": 12.3, "color": "#000000", "text": "XPS depth profile of"}, "encoding": {"x": {"datum": 739.2}, "y": {"datum": 30920}}},
        {"data": {"values": [{}]}, "mark": {"type": "text", "align": "left", "baseline": "middle", "fontSize": 12.3, "fontWeight": "bold", "color": "#000000", "text": "amp-1"}, "encoding": {"x": {"datum": 724.05}, "y": {"datum": 30920}}},
        {"data": {"values": [{}]}, "mark": {"type": "rule", "strokeWidth": 0.8, "color": "#000000"}, "encoding": {"x": {"datum": 739.2}, "x2": {"datum": 718.8}, "y": {"datum": 30100}}},
        {"data": {"values": [{}]}, "mark": {"type": "text", "align": "left", "baseline": "middle", "fontSize": 12.2, "fontStyle": "italic", "color": "#000000", "text": "etching rate : 50.7 nm/min v.s. Fe foil"}, "encoding": {"x": {"datum": 739.15}, "y": {"datum": 29175}}}
      ]
    },
    {
      "width": 295,
      "height": 236,
      "title": {"text": "(c)", "anchor": "start", "frame": "group", "baseline": "top", "offset": 0, "dx": -58, "dy": 28, "fontSize": 22, "fontWeight": "bold", "color": "#000000"},
      "layer": [
        {
          "data": {"name": "cRaw"},
          "mark": {"type": "line", "color": "#c6c6c6", "strokeWidth": 2},
          "encoding": {
            "x": {"field": "e", "type": "quantitative", "scale": {"domain": [702.2, 740.1], "reverse": true, "nice": false, "zero": false},
                  "axis": {"title": "Binding Energy (eV)", "tickCount": 200, "labelOverlap": false, "values": [702.5, 705, 707.5, 710, 712.5, 715, 717.5, 720, 722.5, 725, 727.5, 730, 732.5, 735, 737.5, 740], "labelExpr": "datum.value % 5 === 0 ? datum.label : ''", "format": "d", "titleFontSize": 13, "titlePadding": 6}},
            "y": {"field": "v", "type": "quantitative", "scale": {"domain": [-310, 24150], "nice": false, "zero": false},
                  "axis": {"title": "Intensity (arb. unit)", "tickCount": 200, "labelOverlap": false, "values": [0, 2500, 5000, 7500, 10000, 12500, 15000, 17500, 20000, 22500], "labelExpr": "datum.value % 5000 === 0 ? datum.label : ''", "format": "d", "titleFontSize": 12.5, "titlePadding": 8}}
          }
        },
        {
          "data": {"name": "cEnv"},
          "mark": {"type": "line", "color": "#111111", "strokeWidth": 2, "interpolate": "monotone"},
          "encoding": {"x": {"field": "e", "type": "quantitative"}, "y": {"field": "v", "type": "quantitative"}}
        },
        {
          "data": {"name": "cComp"},
          "transform": [{"filter": "indexof(datum.c, 'Fe2+') === 0"}],
          "mark": {"type": "line", "color": "#ff1f1f", "strokeWidth": 1.1, "interpolate": "monotone"},
          "encoding": {"x": {"field": "e", "type": "quantitative"}, "y": {"field": "v", "type": "quantitative"}, "detail": {"field": "c", "type": "nominal"}}
        },
        {
          "data": {"name": "cComp"},
          "transform": [{"filter": "indexof(datum.c, 'Fe3+') === 0"}],
          "mark": {"type": "line", "color": "#1f961f", "strokeWidth": 1.1, "interpolate": "monotone"},
          "encoding": {"x": {"field": "e", "type": "quantitative"}, "y": {"field": "v", "type": "quantitative"}, "detail": {"field": "c", "type": "nominal"}}
        },
        {
          "data": {"name": "cComp"},
          "transform": [{"filter": "indexof(datum.c, 'Fe0') === 0"}],
          "mark": {"type": "line", "color": "#1f1fff", "strokeWidth": 1.1, "interpolate": "monotone"},
          "encoding": {"x": {"field": "e", "type": "quantitative"}, "y": {"field": "v", "type": "quantitative"}, "detail": {"field": "c", "type": "nominal"}}
        },
        {"data": {"values": [{}]}, "mark": {"type": "text", "align": "left", "baseline": "middle", "fontSize": 12.5, "fontWeight": "bold", "color": "#111111", "text": "amp-1 : Fe⁰ : Fe²⁺ : Fe³⁺ = 5.4 : 65.0 : 30.6(%)"}, "encoding": {"x": {"datum": 738.8}, "y": {"datum": 22316}}},
        {"data": {"values": [{}]}, "mark": {"type": "text", "align": "left", "baseline": "middle", "fontSize": 11, "fontWeight": "bold", "color": "#1f1fff", "text": "Fe⁰"}, "encoding": {"x": {"datum": 738.8}, "y": {"datum": 19900}}},
        {"data": {"values": [{}]}, "mark": {"type": "text", "align": "left", "baseline": "middle", "fontSize": 11, "fontWeight": "bold", "color": "#1f1fff", "text": "2p₃/₂ 706.2eV"}, "encoding": {"x": {"datum": 735.2}, "y": {"datum": 19900}}},
        {"data": {"values": [{}]}, "mark": {"type": "text", "align": "left", "baseline": "middle", "fontSize": 11, "fontWeight": "bold", "color": "#1f1fff", "text": "2p₁/₂ 719.2eV"}, "encoding": {"x": {"datum": 735.2}, "y": {"datum": 18067}}},
        {"data": {"values": [{}]}, "mark": {"type": "text", "align": "left", "baseline": "middle", "fontSize": 11, "fontWeight": "bold", "color": "#ff1f1f", "text": "Fe²⁺"}, "encoding": {"x": {"datum": 738.8}, "y": {"datum": 16274}}},
        {"data": {"values": [{}]}, "mark": {"type": "text", "align": "left", "baseline": "middle", "fontSize": 11, "fontWeight": "bold", "color": "#ff1f1f", "text": "2p₃/₂ 709.0eV"}, "encoding": {"x": {"datum": 735.2}, "y": {"datum": 16274}}},
        {"data": {"values": [{}]}, "mark": {"type": "text", "align": "left", "baseline": "middle", "fontSize": 11, "fontWeight": "bold", "color": "#ff1f1f", "text": "2p₁/₂ 722.0eV"}, "encoding": {"x": {"datum": 735.2}, "y": {"datum": 14306}}},
        {"data": {"values": [{}]}, "mark": {"type": "text", "align": "left", "baseline": "middle", "fontSize": 11, "fontWeight": "bold", "color": "#1f961f", "text": "Fe³⁺"}, "encoding": {"x": {"datum": 738.8}, "y": {"datum": 12471}}},
        {"data": {"values": [{}]}, "mark": {"type": "text", "align": "left", "baseline": "middle", "fontSize": 11, "fontWeight": "bold", "color": "#1f961f", "text": "2p₃/₂ 711.9eV"}, "encoding": {"x": {"datum": 735.2}, "y": {"datum": 12471}}},
        {"data": {"values": [{}]}, "mark": {"type": "text", "align": "left", "baseline": "middle", "fontSize": 11, "fontWeight": "bold", "color": "#1f961f", "text": "2p₁/₂ 724.9eV"}, "encoding": {"x": {"datum": 735.2}, "y": {"datum": 10575}}}
      ]
    },
    {
      "width": 299,
      "height": 236,
      "title": {"text": "(d)", "anchor": "start", "frame": "group", "baseline": "top", "offset": 0, "dx": -61, "dy": 28, "fontSize": 22, "fontWeight": "bold", "color": "#000000"},
      "resolve": {"scale": {"x": "independent", "y": "independent"}},
      "layer": [
        {
          "data": {"name": "d"},
          "transform": [{"fold": ["expt", "lcf", "fe", "feo", "fe3o4", "fe2o3"], "as": ["s", "v"]}],
          "layer": [
            {
              "transform": [{"filter": "datum.s !== 'expt' && datum.s !== 'lcf'"}],
              "mark": {"type": "line", "strokeWidth": 1.1},
              "encoding": {
                "x": {"field": "e", "type": "quantitative", "scale": {"domain": [7101.7, 7138.25], "nice": false, "zero": false},
                      "axis": {"title": "Photo Energy (eV)", "orient": "bottom", "tickCount": 200, "labelOverlap": false, "values": [7104, 7108, 7112, 7116, 7120, 7124, 7128, 7132, 7136], "labelExpr": "(datum.value - 7104) % 8 === 0 ? datum.label : ''", "format": "d", "labelFontSize": 10.5, "titleFontSize": 13.5, "titlePadding": 6}},
                "y": {"field": "v", "type": "quantitative", "scale": {"domain": [-0.005, 1.259], "nice": false, "zero": false},
                      "axis": {"title": "Norm. Abs.", "orient": "left", "tickCount": 200, "labelOverlap": false, "values": [0, 0.1, 0.2, 0.3, 0.4, 0.5, 0.6, 0.7, 0.8, 0.9, 1.0, 1.1, 1.2], "labelExpr": "round(datum.value * 10) % 2 === 0 ? datum.label : ''", "format": ".1f", "labelFontSize": 10.5, "titleFontSize": 13.5, "titlePadding": 10}},
                "color": {"field": "s", "type": "nominal",
                  "scale": {"domain": ["expt", "hyd", "lcf", "fe", "feo", "fe3o4", "fe2o3"], "range": ["#000000", "rgba(0,0,0,0)", "#ff1010", "#3b4cff", "#ffa535", "#a8484c", "#2ca02c"]},
                  "legend": {
                    "title": null, "orient": "none", "legendX": 12, "legendY": 8, "symbolType": "M-1.8,0L1.8,0", "symbolSize": 100,
                    "symbolStrokeWidth": {"expr": "datum.value === 'expt' || datum.value === 'lcf' ? 2.4 : 1.3"},
                    "labelFontWeight": {"expr": "datum.value === 'fe' ? 'bold' : 'normal'"},
                    "symbolOffset": 4, "labelOffset": 10, "labelFontSize": 10, "rowPadding": 1.8,
                    "labelExpr": "datum.label === 'expt' ? 'Expt. amp-1' : datum.label === 'hyd' ? '(Hydrolysis of [(2-ampH)Fe(NO)₂])' : datum.label === 'lcf' ? 'LCF Fit. (R = 0.00045)' : datum.label === 'fe' ? 'Fe foil (3.0 ± 1.0 %)' : datum.label === 'feo' ? 'FeO\u00a0\u00a0\u00a0\u00a0 (2.3 ± 1.5 %)' : datum.label === 'fe3o4' ? 'Fe₃O₄\u00a0 (50.9 ± 4.5 %)' : 'Fe₂O₃\u00a0 (42.9 ± 2.6 %)'"
                  }}
              }
            },
            {
              "transform": [{"filter": "datum.s === 'expt'"}],
              "mark": {"type": "line", "strokeWidth": 2.2},
              "encoding": {"x": {"field": "e", "type": "quantitative"}, "y": {"field": "v", "type": "quantitative"}, "color": {"field": "s", "type": "nominal"}}
            },
            {
              "transform": [{"filter": "datum.s === 'lcf'"}],
              "mark": {"type": "line", "strokeWidth": 2},
              "encoding": {"x": {"field": "e", "type": "quantitative"}, "y": {"field": "v", "type": "quantitative"}, "color": {"field": "s", "type": "nominal"}}
            }
          ]
        },
        {
          "layer": [
            {
              "data": {"values": [{}]},
              "mark": {"type": "rect", "fill": "#ffffff", "stroke": "#9a9a9a", "strokeWidth": 0.8},
              "encoding": {"x": {"datum": 7104}, "x2": {"datum": 7138.6}, "y": {"datum": -0.0014}, "y2": {"datum": 0.05}}
            },
            {
              "data": {"name": "dIn"},
              "mark": {"type": "line", "strokeWidth": 0.9},
              "encoding": {
                "x": {"field": "e", "type": "quantitative", "scale": {"domain": [7104, 7138.6], "range": [25.7, 137], "nice": false, "zero": false},
                      "axis": {"title": "Photo Energy (eV)", "orient": "bottom", "offset": -53.3, "tickCount": 200, "labelOverlap": false, "values": [7104, 7112, 7120, 7128, 7136], "format": "d", "labelFontSize": 6.5, "titleFontSize": 7.5, "tickSize": 2, "labelPadding": 1, "titlePadding": 2, "domainColor": "#9a9a9a", "tickColor": "#9a9a9a"}},
                "y": {"field": "v", "type": "quantitative", "scale": {"domain": [-0.0014, 0.05], "range": [182.7, 96], "nice": false, "zero": false},
                      "axis": {"title": "Norm. Abs.", "orient": "left", "offset": -25.7, "tickCount": 200, "labelOverlap": false, "values": [0, 0.02, 0.04], "format": ".2f", "labelFontSize": 6.5, "titleFontSize": 6.5, "tickSize": 2, "labelPadding": 1, "titlePadding": 2, "domainColor": "#9a9a9a", "tickColor": "#9a9a9a"}},
                "color": {"field": "s", "type": "nominal"}
              }
            }
          ]
        }
      ]
    }
  ]
}
